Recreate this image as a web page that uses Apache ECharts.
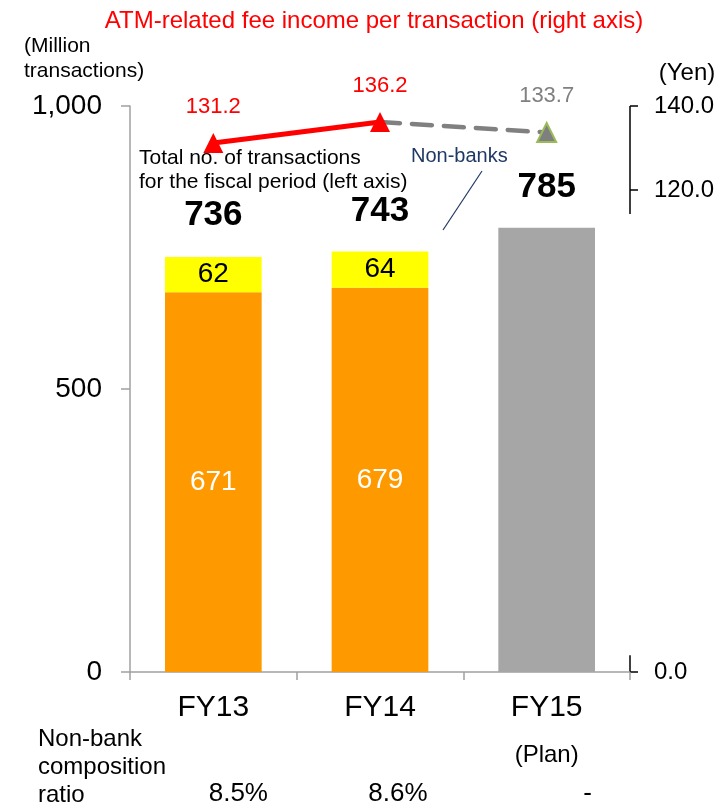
<!DOCTYPE html>
<html>
<head>
<meta charset="utf-8">
<script src="https://cdn.jsdelivr.net/npm/echarts@6/dist/echarts.min.js"></script>
<style>
html, body { margin: 0; padding: 0; background: #fff; }
#chart { width: 725px; height: 806px; }
</style>
</head>
<body>
<div id="chart"></div>
<script>
// data
var categories = ['FY13', 'FY14', 'FY15'];
var banks = [671, 679, null];
var nonBanks = [62, 64, null];
var plan = [null, null, 785];
var totals = [736, 743, 785];
var feePerTxn = [131.2, 136.2, 133.7];
var nonBankRatio = ['8.5%', '8.6%', '-'];
var leftTicks = [0, 500, 1000];
var rightMin = 5.2; // broken right axis, bottom tick shown as 0.0
var rightTicks = [rightMin, 120, 140];

var FONT = '"Liberation Sans", Arial, sans-serif';
var GRID = { left: 130, right: 95, top: 106, bottom: 134 };

var chart = echarts.init(document.getElementById('chart'));

function fmtThousands(v) {
  return String(v).replace(/\B(?=(\d{3})+(?!\d))/g, ',');
}

var redData = feePerTxn.map(function (v, i) { return i < 2 ? v : null; });
var planLineData = feePerTxn.map(function (v, i) {
  if (i === 0) return null;
  if (i === 1) return { value: v, symbol: 'none', label: { show: false } };
  return v;
});

chart.setOption({
  animation: false,
  textStyle: { fontFamily: FONT },
  grid: GRID,
  xAxis: {
    type: 'category',
    data: categories,
    axisLine: { lineStyle: { color: '#A0A0A0', width: 1.5 } },
    axisTick: { show: true, length: 8, lineStyle: { color: '#A0A0A0', width: 1.5 } },
    axisLabel: {
      margin: 19,
      color: '#000',
      formatter: function (v) {
        return v === 'FY15' ? '{a|' + v + '}\n{p|(Plan)}' : '{a|' + v + '}';
      },
      rich: {
        a: { fontSize: 30, lineHeight: 34, color: '#000', fontFamily: FONT },
        p: { fontSize: 24, lineHeight: 60, color: '#000', fontFamily: FONT }
      }
    }
  },
  yAxis: [
    {
      type: 'value',
      min: 0,
      max: 1000,
      interval: 500,
      splitLine: { show: false },
      axisLine: { show: true, lineStyle: { color: '#A0A0A0', width: 1.5 } },
      axisTick: { show: true, length: 9, lineStyle: { color: '#A0A0A0', width: 1.5 } },
      axisLabel: {
        customValues: leftTicks,
        margin: 28,
        fontSize: 28,
        color: '#000',
        fontFamily: FONT,
        formatter: fmtThousands
      }
    },
    {
      type: 'value',
      position: 'right',
      min: rightMin,
      max: 140,
      splitLine: { show: false },
      axisLine: { show: false },
      axisTick: {
        show: true,
        customValues: rightTicks,
        length: 8,
        lineStyle: { color: '#000', width: 1.5 }
      },
      axisLabel: {
        customValues: rightTicks,
        margin: 24,
        fontSize: 24,
        color: '#000',
        fontFamily: FONT,
        formatter: function (v) { return v === rightMin ? '0.0' : v.toFixed(1); }
      }
    }
  ],
  series: [
    {
      name: 'Banks',
      type: 'bar',
      stack: 'total',
      barWidth: '58%',
      data: banks,
      itemStyle: { color: '#FF9900' },
      label: { show: true, position: 'inside', color: '#fff', fontSize: 28, fontFamily: FONT }
    },
    {
      name: 'Non-banks',
      type: 'bar',
      stack: 'total',
      data: nonBanks,
      itemStyle: { color: '#FFFF00' },
      label: { show: true, position: 'inside', color: '#000', fontSize: 28, fontFamily: FONT }
    },
    {
      name: 'Plan',
      type: 'bar',
      stack: 'total',
      data: plan,
      itemStyle: { color: '#A6A6A6' }
    },
    {
      name: 'Total',
      type: 'scatter',
      data: totals,
      symbolSize: 1,
      itemStyle: { color: 'rgba(0,0,0,0)', opacity: 1 },
      silent: true,
      label: {
        show: true,
        position: 'top',
        distance: 22,
        fontSize: 35,
        fontWeight: 'bold',
        color: '#000',
        fontFamily: FONT
      }
    },
    {
      name: 'Plan fee',
      type: 'line',
      yAxisIndex: 1,
      data: planLineData,
      symbol: 'triangle',
      symbolSize: 19,
      z: 3,
      lineStyle: { color: '#808080', width: 4.5, type: [20, 12], cap: 'round' },
      itemStyle: { color: '#7F7F7F', borderColor: '#9BBB59', borderWidth: 2 },
      label: { show: true, position: 'top', distance: 15, color: '#808080', fontSize: 22, fontFamily: FONT }
    },
    {
      name: 'Fee per transaction',
      type: 'line',
      yAxisIndex: 1,
      data: redData,
      symbol: 'triangle',
      symbolSize: 20,
      z: 4,
      lineStyle: { color: '#FF0000', width: 5 },
      itemStyle: { color: '#FF0000' },
      label: { show: true, position: 'top', distance: 15, color: '#FF0000', fontSize: 22, fontFamily: FONT }
    }
  ]
});

// annotations and the broken right axis line
var xR = chart.getWidth() - GRID.right;
function yR(v) { return chart.convertToPixel({ yAxisIndex: 1 }, v); }
function xC(c) { return chart.convertToPixel({ xAxisIndex: 0 }, c); }

function txt(text, x, y, size, color, align, vAlign, extra) {
  var st = {
    text: text, fill: color, font: size + 'px ' + FONT,
    align: align, verticalAlign: vAlign, textAlign: align, textVerticalAlign: vAlign
  };
  for (var k in extra) st[k] = extra[k];
  return { type: 'text', x: x, y: y, silent: true, style: st };
}

var graphics = [
  txt('ATM-related fee income per transaction (right axis)', 374, 21, 24, '#FF0000', 'center', 'middle'),
  txt('(Million\ntransactions)', 24, 34, 21, '#000', 'left', 'top', { lineHeight: 25 }),
  txt('(Yen)', 687, 73, 24, '#000', 'center', 'middle'),
  txt('Total no. of transactions\nfor the fiscal period (left axis)', 139, 146, 21, '#000', 'left', 'top', { lineHeight: 24 }),
  txt('Non-banks', 411, 156, 20, '#1F3864', 'left', 'middle'),
  {
    type: 'line', silent: true,
    shape: { x1: 482, y1: 171, x2: 443, y2: 230 },
    style: { stroke: '#1F3864', lineWidth: 1.2 }
  },
  txt('Non-bank\ncomposition\nratio', 38, 725, 24, '#000', 'left', 'top', { lineHeight: 28 }),
  {
    type: 'line', silent: true,
    shape: { x1: xR, y1: yR(140), x2: xR, y2: yR(114.3) },
    style: { stroke: '#000', lineWidth: 1.5 }
  },
  {
    type: 'line', silent: true,
    shape: { x1: xR, y1: yR(rightMin), x2: xR, y2: yR(rightMin + 4) },
    style: { stroke: '#000', lineWidth: 1.5 }
  }
];

var ratioOffsets = [25, 18, 41];
nonBankRatio.forEach(function (r, i) {
  graphics.push(txt(r, xC(categories[i]) + ratioOffsets[i], 794, 26, '#000', 'center', 'middle'));
});

chart.setOption({ graphic: graphics });
</script>
</body>
</html>
